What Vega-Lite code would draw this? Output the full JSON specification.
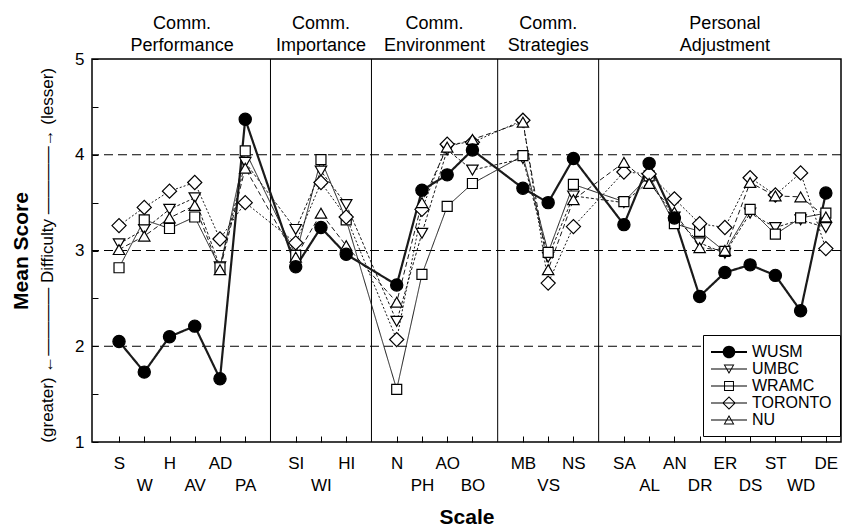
{
  "$schema": "https://vega.github.io/schema/vega-lite/v6.json",
  "width": 749,
  "height": 383,
  "autosize": "none",
  "padding": {"left": 92, "top": 59, "right": 1, "bottom": 85},
  "background": "white",
  "config": {
    "font": "Liberation Sans, Arial, sans-serif",
    "view": {"stroke": "black", "strokeWidth": 1.5},
    "axis": {"labelFont": "Liberation Sans, sans-serif", "titleFont": "Liberation Sans, sans-serif", "labelColor": "black", "titleColor": "black", "tickColor": "black", "labelOverlap": false}
  },
  "resolve": {"scale": {"shape": "independent"}},
  "datasets": {
    "scales": [
      {"scale": "S", "pos": 0, "g1": "Comm.", "g2": "Performance"},
      {"scale": "W", "pos": 1, "g1": "Comm.", "g2": "Performance"},
      {"scale": "H", "pos": 2, "g1": "Comm.", "g2": "Performance"},
      {"scale": "AV", "pos": 3, "g1": "Comm.", "g2": "Performance"},
      {"scale": "AD", "pos": 4, "g1": "Comm.", "g2": "Performance"},
      {"scale": "PA", "pos": 5, "g1": "Comm.", "g2": "Performance"},
      {"scale": "SI", "pos": 7, "g1": "Comm.", "g2": "Importance"},
      {"scale": "WI", "pos": 8, "g1": "Comm.", "g2": "Importance"},
      {"scale": "HI", "pos": 9, "g1": "Comm.", "g2": "Importance"},
      {"scale": "N", "pos": 11, "g1": "Comm.", "g2": "Environment"},
      {"scale": "PH", "pos": 12, "g1": "Comm.", "g2": "Environment"},
      {"scale": "AO", "pos": 13, "g1": "Comm.", "g2": "Environment"},
      {"scale": "BO", "pos": 14, "g1": "Comm.", "g2": "Environment"},
      {"scale": "MB", "pos": 16, "g1": "Comm.", "g2": "Strategies"},
      {"scale": "VS", "pos": 17, "g1": "Comm.", "g2": "Strategies"},
      {"scale": "NS", "pos": 18, "g1": "Comm.", "g2": "Strategies"},
      {"scale": "SA", "pos": 20, "g1": "Personal", "g2": "Adjustment"},
      {"scale": "AL", "pos": 21, "g1": "Personal", "g2": "Adjustment"},
      {"scale": "AN", "pos": 22, "g1": "Personal", "g2": "Adjustment"},
      {"scale": "DR", "pos": 23, "g1": "Personal", "g2": "Adjustment"},
      {"scale": "ER", "pos": 24, "g1": "Personal", "g2": "Adjustment"},
      {"scale": "DS", "pos": 25, "g1": "Personal", "g2": "Adjustment"},
      {"scale": "ST", "pos": 26, "g1": "Personal", "g2": "Adjustment"},
      {"scale": "WD", "pos": 27, "g1": "Personal", "g2": "Adjustment"},
      {"scale": "DE", "pos": 28, "g1": "Personal", "g2": "Adjustment"}
    ],
    "scores": [
      {"school": "UMBC", "scale": "S", "value": 3.07},
      {"school": "UMBC", "scale": "W", "value": 3.22},
      {"school": "UMBC", "scale": "H", "value": 3.43},
      {"school": "UMBC", "scale": "AV", "value": 3.55},
      {"school": "UMBC", "scale": "AD", "value": 2.83},
      {"school": "UMBC", "scale": "PA", "value": 3.92},
      {"school": "UMBC", "scale": "SI", "value": 3.22},
      {"school": "UMBC", "scale": "WI", "value": 3.83},
      {"school": "UMBC", "scale": "HI", "value": 3.48},
      {"school": "UMBC", "scale": "N", "value": 2.26},
      {"school": "UMBC", "scale": "PH", "value": 3.18},
      {"school": "UMBC", "scale": "AO", "value": 4.05},
      {"school": "UMBC", "scale": "BO", "value": 3.84},
      {"school": "UMBC", "scale": "MB", "value": 3.96},
      {"school": "UMBC", "scale": "VS", "value": 2.93},
      {"school": "UMBC", "scale": "NS", "value": 3.57},
      {"school": "UMBC", "scale": "SA", "value": 3.50},
      {"school": "UMBC", "scale": "AL", "value": 3.72},
      {"school": "UMBC", "scale": "AN", "value": 3.35},
      {"school": "UMBC", "scale": "DR", "value": 3.08},
      {"school": "UMBC", "scale": "ER", "value": 2.97},
      {"school": "UMBC", "scale": "DS", "value": 3.39},
      {"school": "UMBC", "scale": "ST", "value": 3.24},
      {"school": "UMBC", "scale": "WD", "value": 3.32},
      {"school": "UMBC", "scale": "DE", "value": 3.24},
      {"school": "WRAMC", "scale": "S", "value": 2.82},
      {"school": "WRAMC", "scale": "W", "value": 3.32},
      {"school": "WRAMC", "scale": "H", "value": 3.23},
      {"school": "WRAMC", "scale": "AV", "value": 3.35},
      {"school": "WRAMC", "scale": "AD", "value": 2.82},
      {"school": "WRAMC", "scale": "PA", "value": 4.04},
      {"school": "WRAMC", "scale": "SI", "value": 2.95},
      {"school": "WRAMC", "scale": "WI", "value": 3.95},
      {"school": "WRAMC", "scale": "HI", "value": 3.32},
      {"school": "WRAMC", "scale": "N", "value": 1.55},
      {"school": "WRAMC", "scale": "PH", "value": 2.75},
      {"school": "WRAMC", "scale": "AO", "value": 3.46},
      {"school": "WRAMC", "scale": "BO", "value": 3.70},
      {"school": "WRAMC", "scale": "MB", "value": 3.99},
      {"school": "WRAMC", "scale": "VS", "value": 2.98},
      {"school": "WRAMC", "scale": "NS", "value": 3.69},
      {"school": "WRAMC", "scale": "SA", "value": 3.51},
      {"school": "WRAMC", "scale": "AL", "value": 3.78},
      {"school": "WRAMC", "scale": "AN", "value": 3.28},
      {"school": "WRAMC", "scale": "DR", "value": 3.20},
      {"school": "WRAMC", "scale": "ER", "value": 2.99},
      {"school": "WRAMC", "scale": "DS", "value": 3.43},
      {"school": "WRAMC", "scale": "ST", "value": 3.17},
      {"school": "WRAMC", "scale": "WD", "value": 3.34},
      {"school": "WRAMC", "scale": "DE", "value": 3.39},
      {"school": "TORONTO", "scale": "S", "value": 3.26},
      {"school": "TORONTO", "scale": "W", "value": 3.45},
      {"school": "TORONTO", "scale": "H", "value": 3.62},
      {"school": "TORONTO", "scale": "AV", "value": 3.71},
      {"school": "TORONTO", "scale": "AD", "value": 3.12},
      {"school": "TORONTO", "scale": "PA", "value": 3.50},
      {"school": "TORONTO", "scale": "SI", "value": 3.08},
      {"school": "TORONTO", "scale": "WI", "value": 3.71},
      {"school": "TORONTO", "scale": "HI", "value": 3.35},
      {"school": "TORONTO", "scale": "N", "value": 2.07},
      {"school": "TORONTO", "scale": "PH", "value": 3.43},
      {"school": "TORONTO", "scale": "AO", "value": 4.11},
      {"school": "TORONTO", "scale": "BO", "value": 4.13},
      {"school": "TORONTO", "scale": "MB", "value": 4.36},
      {"school": "TORONTO", "scale": "VS", "value": 2.66},
      {"school": "TORONTO", "scale": "NS", "value": 3.25},
      {"school": "TORONTO", "scale": "SA", "value": 3.82},
      {"school": "TORONTO", "scale": "AL", "value": 3.80},
      {"school": "TORONTO", "scale": "AN", "value": 3.54},
      {"school": "TORONTO", "scale": "DR", "value": 3.28},
      {"school": "TORONTO", "scale": "ER", "value": 3.24},
      {"school": "TORONTO", "scale": "DS", "value": 3.76},
      {"school": "TORONTO", "scale": "ST", "value": 3.58},
      {"school": "TORONTO", "scale": "WD", "value": 3.81},
      {"school": "TORONTO", "scale": "DE", "value": 3.02},
      {"school": "NU", "scale": "S", "value": 3.01},
      {"school": "NU", "scale": "W", "value": 3.15},
      {"school": "NU", "scale": "H", "value": 3.34},
      {"school": "NU", "scale": "AV", "value": 3.47},
      {"school": "NU", "scale": "AD", "value": 2.80},
      {"school": "NU", "scale": "PA", "value": 3.86},
      {"school": "NU", "scale": "SI", "value": 2.93},
      {"school": "NU", "scale": "WI", "value": 3.39},
      {"school": "NU", "scale": "HI", "value": 3.05},
      {"school": "NU", "scale": "N", "value": 2.46},
      {"school": "NU", "scale": "PH", "value": 3.50},
      {"school": "NU", "scale": "AO", "value": 4.08},
      {"school": "NU", "scale": "BO", "value": 4.16},
      {"school": "NU", "scale": "MB", "value": 4.34},
      {"school": "NU", "scale": "VS", "value": 2.80},
      {"school": "NU", "scale": "NS", "value": 3.53},
      {"school": "NU", "scale": "SA", "value": 3.92},
      {"school": "NU", "scale": "AL", "value": 3.70},
      {"school": "NU", "scale": "AN", "value": 3.40},
      {"school": "NU", "scale": "DR", "value": 3.03},
      {"school": "NU", "scale": "ER", "value": 3.00},
      {"school": "NU", "scale": "DS", "value": 3.71},
      {"school": "NU", "scale": "ST", "value": 3.57},
      {"school": "NU", "scale": "WD", "value": 3.56},
      {"school": "NU", "scale": "DE", "value": 3.35},
      {"school": "WUSM", "scale": "S", "value": 2.05},
      {"school": "WUSM", "scale": "W", "value": 1.73},
      {"school": "WUSM", "scale": "H", "value": 2.10},
      {"school": "WUSM", "scale": "AV", "value": 2.21},
      {"school": "WUSM", "scale": "AD", "value": 1.66},
      {"school": "WUSM", "scale": "PA", "value": 4.37},
      {"school": "WUSM", "scale": "SI", "value": 2.83},
      {"school": "WUSM", "scale": "WI", "value": 3.24},
      {"school": "WUSM", "scale": "HI", "value": 2.96},
      {"school": "WUSM", "scale": "N", "value": 2.64},
      {"school": "WUSM", "scale": "PH", "value": 3.63},
      {"school": "WUSM", "scale": "AO", "value": 3.79},
      {"school": "WUSM", "scale": "BO", "value": 4.05},
      {"school": "WUSM", "scale": "MB", "value": 3.65},
      {"school": "WUSM", "scale": "VS", "value": 3.50},
      {"school": "WUSM", "scale": "NS", "value": 3.96},
      {"school": "WUSM", "scale": "SA", "value": 3.27},
      {"school": "WUSM", "scale": "AL", "value": 3.91},
      {"school": "WUSM", "scale": "AN", "value": 3.34},
      {"school": "WUSM", "scale": "DR", "value": 2.52},
      {"school": "WUSM", "scale": "ER", "value": 2.77},
      {"school": "WUSM", "scale": "DS", "value": 2.85},
      {"school": "WUSM", "scale": "ST", "value": 2.74},
      {"school": "WUSM", "scale": "WD", "value": 2.37},
      {"school": "WUSM", "scale": "DE", "value": 3.60}
    ]
  },
  "layer": [
    {
      "data": {"values": [{"y": 2}, {"y": 3}, {"y": 4}]},
      "mark": {"type": "rule", "color": "black", "strokeWidth": 1, "strokeDash": [9, 5]},
      "encoding": {
        "y": {"field": "y", "type": "quantitative", "scale": {"domain": [1, 5], "nice": false, "zero": false},
          "axis": {"title": "Mean Score", "values": [1, 1.5, 2, 2.5, 3, 3.5, 4, 4.5, 5], "labelExpr": "datum.value % 1 === 0 ? format(datum.value, 'd') : ''", "tickSize": -6, "domain": false, "grid": false, "labelFontSize": 17, "labelPadding": 14, "labelFlush": false, "labelOverlap": false, "titleFontSize": 21, "titleFontWeight": "bold", "titlePadding": 43}}
      }
    },
    {
      "data": {"name": "scales"},
      "transform": [
        {"aggregate": [{"op": "min", "field": "pos", "as": "start"}], "groupby": ["g2"]},
        {"filter": "datum.start > 0"},
        {"calculate": "datum.start - 1", "as": "sep"}
      ],
      "mark": {"type": "rule", "color": "black", "strokeWidth": 1},
      "encoding": {
        "x": {"field": "sep", "type": "quantitative", "scale": {"domain": [-1.07, 28.6], "nice": false, "zero": false},
          "axis": {"title": "Scale", "values": [0, 1, 2, 3, 4, 5, 7, 8, 9, 11, 12, 13, 14, 16, 17, 18, 20, 21, 22, 23, 24, 25, 26, 27, 28], "labelExpr": "['S','W','H','AV','AD','PA','','SI','WI','HI','','N','PH','AO','BO','','MB','VS','NS','','SA','AL','AN','DR','ER','DS','ST','WD','DE'][datum.value]", "tickSize": -6, "domain": false, "grid": false, "labelAngle": 0, "labelFontSize": 17, "labelOverlap": false, "labelFlush": false, "labelBound": false, "labelPadding": {"condition": {"test": "indexof([1,3,5,8,12,14,17,21,23,25,27], datum.value) >= 0", "value": 41}, "value": 19}, "titleFontSize": 21, "titleFontWeight": "bold", "titlePadding": 13}}
      }
    },
    {
      "data": {"name": "scores"},
      "transform": [{"lookup": "scale", "from": {"data": {"name": "scales"}, "key": "scale", "fields": ["pos"]}}],
      "mark": {"type": "line", "color": "#1a1a1a"},
      "encoding": {
        "x": {"field": "pos", "type": "quantitative", "scale": {"domain": [-1.07, 28.6], "nice": false, "zero": false},
          "axis": {"title": "Scale", "values": [0, 1, 2, 3, 4, 5, 7, 8, 9, 11, 12, 13, 14, 16, 17, 18, 20, 21, 22, 23, 24, 25, 26, 27, 28], "labelExpr": "['S','W','H','AV','AD','PA','','SI','WI','HI','','N','PH','AO','BO','','MB','VS','NS','','SA','AL','AN','DR','ER','DS','ST','WD','DE'][datum.value]", "tickSize": -6, "domain": false, "grid": false, "labelAngle": 0, "labelFontSize": 17, "labelOverlap": false, "labelFlush": false, "labelBound": false, "labelPadding": {"condition": {"test": "indexof([1,3,5,8,12,14,17,21,23,25,27], datum.value) >= 0", "value": 41}, "value": 19}, "titleFontSize": 21, "titleFontWeight": "bold", "titlePadding": 13}},
        "y": {"field": "value", "type": "quantitative", "scale": {"domain": [1, 5], "nice": false, "zero": false},
          "axis": {"title": "Mean Score", "values": [1, 1.5, 2, 2.5, 3, 3.5, 4, 4.5, 5], "labelExpr": "datum.value % 1 === 0 ? format(datum.value, 'd') : ''", "tickSize": -6, "domain": false, "grid": false, "labelFontSize": 17, "labelPadding": 14, "labelFlush": false, "labelOverlap": false, "titleFontSize": 21, "titleFontWeight": "bold", "titlePadding": 43}},
        "detail": {"field": "school"},
        "strokeDash": {"field": "school", "type": "nominal", "scale": {"domain": ["TORONTO", "NU", "WUSM", "UMBC", "WRAMC"], "range": [[2, 2], [5, 3], [1, 0], [3, 2], [1, 0]]}, "legend": null},
        "strokeWidth": {"field": "school", "type": "nominal", "scale": {"type": "ordinal", "domain": ["NU", "WUSM", "UMBC", "WRAMC", "TORONTO"], "range": [1, 2.2, 1, 1, 1]}, "legend": null}
      }
    },
    {
      "data": {"name": "scores"},
      "transform": [{"lookup": "scale", "from": {"data": {"name": "scales"}, "key": "scale", "fields": ["pos"]}}],
      "mark": {"type": "point", "filled": true, "stroke": "black", "strokeWidth": 1.2, "opacity": 1},
      "encoding": {
        "x": {"field": "pos", "type": "quantitative", "scale": {"domain": [-1.07, 28.6], "nice": false, "zero": false},
          "axis": {"title": "Scale", "values": [0, 1, 2, 3, 4, 5, 7, 8, 9, 11, 12, 13, 14, 16, 17, 18, 20, 21, 22, 23, 24, 25, 26, 27, 28], "labelExpr": "['S','W','H','AV','AD','PA','','SI','WI','HI','','N','PH','AO','BO','','MB','VS','NS','','SA','AL','AN','DR','ER','DS','ST','WD','DE'][datum.value]", "tickSize": -6, "domain": false, "grid": false, "labelAngle": 0, "labelFontSize": 17, "labelOverlap": false, "labelFlush": false, "labelBound": false, "labelPadding": {"condition": {"test": "indexof([1,3,5,8,12,14,17,21,23,25,27], datum.value) >= 0", "value": 41}, "value": 19}, "titleFontSize": 21, "titleFontWeight": "bold", "titlePadding": 13}},
        "y": {"field": "value", "type": "quantitative", "scale": {"domain": [1, 5], "nice": false, "zero": false},
          "axis": {"title": "Mean Score", "values": [1, 1.5, 2, 2.5, 3, 3.5, 4, 4.5, 5], "labelExpr": "datum.value % 1 === 0 ? format(datum.value, 'd') : ''", "tickSize": -6, "domain": false, "grid": false, "labelFontSize": 17, "labelPadding": 14, "labelFlush": false, "labelOverlap": false, "titleFontSize": 21, "titleFontWeight": "bold", "titlePadding": 43}},
        "shape": {"field": "school", "type": "nominal", "scale": {"domain": ["WUSM", "UMBC", "WRAMC", "TORONTO", "NU"], "range": ["circle", "triangle-down", "square", "diamond", "triangle-up"]}, "legend": null},
        "fill": {"field": "school", "type": "nominal", "scale": {"domain": ["UMBC", "WRAMC", "TORONTO", "NU", "WUSM"], "range": ["white", "white", "white", "white", "black"]}, "legend": null},
        "size": {"field": "school", "type": "nominal", "scale": {"type": "ordinal", "domain": ["WRAMC", "TORONTO", "NU", "WUSM", "UMBC"], "range": [100, 200, 130, 150, 130]}, "legend": null}
      }
    },
    {
      "data": {"name": "scores"},
      "transform": [{"filter": "false"}],
      "mark": {"type": "point", "filled": true, "color": "black", "opacity": 1},
      "encoding": {
        "shape": {
          "field": "school", "type": "nominal",
          "scale": {"domain": ["WUSM", "UMBC", "WRAMC", "TORONTO", "NU"], "range": [
            "M-1,-0.1H3V0.1H-1Z M1.7,0A0.7,0.7 0 1 1 0.3,0A0.7,0.7 0 1 1 1.7,0Z",
            "M-1,-0.06H3V0.06H-1Z M0.4,-0.5L1.6,-0.5L1,0.55Z M0.58,-0.395L1,0.34L1.42,-0.395Z",
            "M-1,-0.06H3V0.06H-1Z M0.45,-0.55H1.55V0.55H0.45Z M0.56,-0.44V0.44H1.44V-0.44Z",
            "M-1,-0.06H3V0.06H-1Z M1,-0.75L1.75,0L1,0.75L0.25,0Z M1,-0.595L0.405,0L1,0.595L1.595,0Z",
            "M-1,-0.06H3V0.06H-1Z M1,-0.55L1.6,0.5L0.4,0.5Z M1,-0.34L0.58,0.395L1.42,0.395Z"
          ]},
          "legend": {
            "title": null,
            "orient": "none",
            "legendX": 611,
            "legendY": 276,
            "padding": 8,
            "strokeColor": "black",
            "fillColor": "white",
            "labelFontSize": 16,
            "labelFont": "Liberation Sans, sans-serif",
            "labelColor": "black",
            "labelOffset": 23,
            "labelLimit": 200,
            "symbolSize": 324,
            "symbolFillColor": "black",
            "symbolStrokeColor": "transparent",
            "symbolStrokeWidth": 0,
            "symbolOpacity": 1,
            "rowPadding": -3
          }
        }
      }
    },
    {
      "data": {"name": "scales"},
      "transform": [
        {"aggregate": [{"op": "mean", "field": "pos", "as": "center"}], "groupby": ["g1", "g2"]},
        {"calculate": "[datum.g1, datum.g2]", "as": "lines"}
      ],
      "mark": {"type": "text", "fontSize": 18, "lineHeight": 22, "baseline": "bottom", "align": "center", "dy": -26, "color": "black"},
      "encoding": {
        "x": {"field": "center", "type": "quantitative", "scale": {"domain": [-1.07, 28.6], "nice": false, "zero": false},
          "axis": {"title": "Scale", "values": [0, 1, 2, 3, 4, 5, 7, 8, 9, 11, 12, 13, 14, 16, 17, 18, 20, 21, 22, 23, 24, 25, 26, 27, 28], "labelExpr": "['S','W','H','AV','AD','PA','','SI','WI','HI','','N','PH','AO','BO','','MB','VS','NS','','SA','AL','AN','DR','ER','DS','ST','WD','DE'][datum.value]", "tickSize": -6, "domain": false, "grid": false, "labelAngle": 0, "labelFontSize": 17, "labelOverlap": false, "labelFlush": false, "labelBound": false, "labelPadding": {"condition": {"test": "indexof([1,3,5,8,12,14,17,21,23,25,27], datum.value) >= 0", "value": 41}, "value": 19}, "titleFontSize": 21, "titleFontWeight": "bold", "titlePadding": 13}},
        "y": {"datum": 5, "type": "quantitative", "scale": {"domain": [1, 5], "nice": false, "zero": false},
          "axis": {"title": "Mean Score", "values": [1, 1.5, 2, 2.5, 3, 3.5, 4, 4.5, 5], "labelExpr": "datum.value % 1 === 0 ? format(datum.value, 'd') : ''", "tickSize": -6, "domain": false, "grid": false, "labelFontSize": 17, "labelPadding": 14, "labelFlush": false, "labelOverlap": false, "titleFontSize": 21, "titleFontWeight": "bold", "titlePadding": 43}},
        "text": {"field": "lines"}
      }
    },
    {
      "data": {"values": [{"t": "(greater)  ←————  Difficulty  ————→  (lesser)"}]},
      "mark": {"type": "text", "fontSize": 17, "angle": 270, "align": "center", "baseline": "middle", "color": "black"},
      "encoding": {
        "x": {"datum": -2.81, "type": "quantitative", "scale": {"domain": [-1.07, 28.6], "nice": false, "zero": false},
          "axis": {"title": "Scale", "values": [0, 1, 2, 3, 4, 5, 7, 8, 9, 11, 12, 13, 14, 16, 17, 18, 20, 21, 22, 23, 24, 25, 26, 27, 28], "labelExpr": "['S','W','H','AV','AD','PA','','SI','WI','HI','','N','PH','AO','BO','','MB','VS','NS','','SA','AL','AN','DR','ER','DS','ST','WD','DE'][datum.value]", "tickSize": -6, "domain": false, "grid": false, "labelAngle": 0, "labelFontSize": 17, "labelOverlap": false, "labelFlush": false, "labelBound": false, "labelPadding": {"condition": {"test": "indexof([1,3,5,8,12,14,17,21,23,25,27], datum.value) >= 0", "value": 41}, "value": 19}, "titleFontSize": 21, "titleFontWeight": "bold", "titlePadding": 13}},
        "y": {"datum": 2.95, "type": "quantitative", "scale": {"domain": [1, 5], "nice": false, "zero": false},
          "axis": {"title": "Mean Score", "values": [1, 1.5, 2, 2.5, 3, 3.5, 4, 4.5, 5], "labelExpr": "datum.value % 1 === 0 ? format(datum.value, 'd') : ''", "tickSize": -6, "domain": false, "grid": false, "labelFontSize": 17, "labelPadding": 14, "labelFlush": false, "labelOverlap": false, "titleFontSize": 21, "titleFontWeight": "bold", "titlePadding": 43}},
        "text": {"field": "t"}
      }
    }
  ]
}
